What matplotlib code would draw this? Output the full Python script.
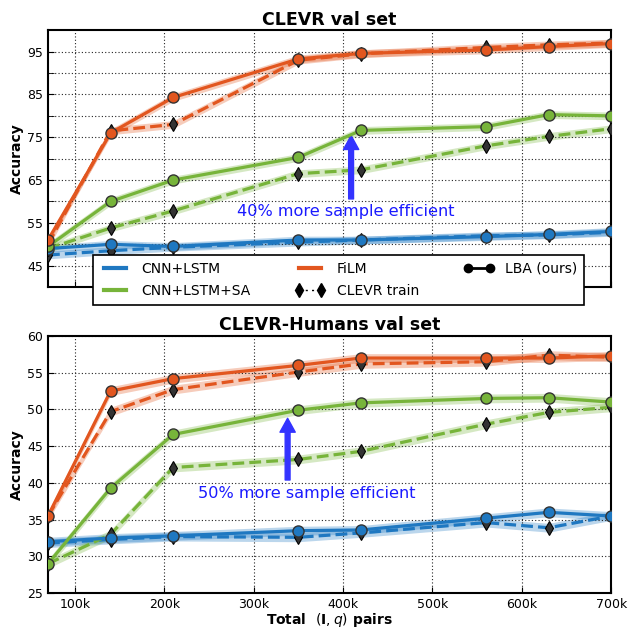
import numpy as np
import matplotlib.pyplot as plt
from matplotlib.lines import Line2D

# training set sizes (question/image pairs)
sizes = [70e3, 140e3, 210e3, 350e3, 420e3, 560e3, 630e3, 700e3]

# CLEVR val set accuracy
clevr_lstm_lba = [49.0, 50.0, 49.5, 51.0, 51.0, 51.8, 52.3, 53.0]
clevr_lstm_train = [47.5, 48.5, 49.3, 50.5, 51.0, 52.0, 52.2, 52.8]
clevr_sa_lba = [49.5, 60.0, 65.0, 70.3, 76.6, 77.5, 80.3, 80.0]
clevr_sa_train = [49.0, 53.8, 57.8, 66.5, 67.4, 73.0, 75.2, 77.0]
clevr_film_lba = [51.0, 76.0, 84.3, 93.3, 94.6, 95.4, 96.2, 96.9]
clevr_film_train = [50.0, 76.5, 78.0, 93.0, 94.5, 96.0, 96.6, 97.0]

# CLEVR-Humans val set accuracy
hum_lstm_lba = [32.0, 32.5, 32.8, 33.5, 33.6, 35.2, 36.0, 35.5]
hum_lstm_train = [31.8, 32.3, 32.7, 32.6, 33.2, 34.6, 33.9, 35.5]
hum_sa_lba = [29.0, 39.3, 46.6, 49.9, 50.9, 51.5, 51.6, 51.0]
hum_sa_train = [29.0, 33.0, 42.1, 43.2, 44.3, 48.0, 49.6, 50.3]
hum_film_lba = [35.5, 52.5, 54.2, 56.0, 57.0, 57.0, 57.0, 57.3]
hum_film_train = [35.5, 49.7, 52.7, 55.1, 56.2, 56.5, 57.4, 57.1]

labels = ['CNN+LSTM', 'CNN+LSTM+SA', 'FiLM']
colors = ['#1f78c1', '#77b43a', '#e2561f']

fig = plt.figure(figsize=(6.28, 6.31), dpi=100)
ax1 = fig.add_axes([0.0764, 0.545, 0.897, 0.407])
ax2 = fig.add_axes([0.0764, 0.060, 0.897, 0.4075])

x = np.array(sizes)


def draw(ax, series, band):
    for (lba, train), c in zip(series, colors):
        lba = np.array(lba)
        train = np.array(train)
        ax.fill_between(x, lba - band, lba + band, color=c, alpha=0.3, lw=0)
        ax.fill_between(x, train - band, train + band, color=c, alpha=0.3, lw=0)
        ax.plot(x, train, '--', color=c, lw=2.3, marker='d', ms=7,
                mfc='#333333', mec='black', mew=0.8, zorder=3)
        ax.plot(x, lba, '-', color=c, lw=2.3, marker='o', ms=8,
                mfc=c, mec='#333333', mew=1.0, zorder=4)


def style(ax):
    ax.set_xlim(70e3, 700e3)
    ax.set_xticks([1e5, 2e5, 3e5, 4e5, 5e5, 6e5, 7e5])
    ax.grid(True, which='both', color='#222222', ls=(0, (1, 2)), lw=0.8)
    ax.tick_params(direction='in', which='both', labelsize=9, length=4)
    for s in ax.spines.values():
        s.set_linewidth(1.5)
    ax.set_ylabel('Accuracy', fontsize=10, fontweight='bold', labelpad=2)


draw(ax1, [(clevr_lstm_lba, clevr_lstm_train),
           (clevr_sa_lba, clevr_sa_train),
           (clevr_film_lba, clevr_film_train)], 0.9)
style(ax1)
ax1.set_ylim(40, 100)
ax1.set_yticks([45, 55, 65, 75, 85, 95])
ax1.set_yticks([50, 60, 70, 80, 90], minor=True)
ax1.set_xticklabels([])
ax1.set_title('CLEVR val set', fontsize=12.5, fontweight='bold', pad=4)
ax1.annotate('', xy=(409e3, 75.4), xytext=(409e3, 60.6),
             arrowprops=dict(facecolor='#3333ff', edgecolor='#3333ff',
                             width=3.5, headwidth=11, headlength=10))
ax1.text(403e3, 57.7, '40% more sample efficient', color='#1a1aff',
         fontsize=11.6, ha='center', va='center')

draw(ax2, [(hum_lstm_lba, hum_lstm_train),
           (hum_sa_lba, hum_sa_train),
           (hum_film_lba, hum_film_train)], 0.6)
style(ax2)
ax2.set_ylim(25, 60)
ax2.set_yticks(np.arange(25, 61, 5))
ax2.set_xticklabels(['100k', '200k', '300k', '400k', '500k', '600k', '700k'])
ax2.set_title('CLEVR-Humans val set', fontsize=12.5, fontweight='bold', pad=4)
ax2.set_xlabel(r'Total  $(\mathbf{I},q)$ pairs', fontsize=10,
               fontweight='bold', labelpad=0)
ax2.annotate('', xy=(338e3, 48.8), xytext=(338e3, 40.4),
             arrowprops=dict(facecolor='#3333ff', edgecolor='#3333ff',
                             width=3.5, headwidth=11, headlength=10))
ax2.text(359e3, 38.6, '50% more sample efficient', color='#1a1aff',
         fontsize=11.6, ha='center', va='center')

handles = [
    Line2D([], [], color=colors[0], lw=3),
    Line2D([], [], color=colors[1], lw=3),
    Line2D([], [], color=colors[2], lw=3),
    Line2D([], [], color='black', ls=(0, (1.5, 3)), lw=1, marker='d',
           ms=7),
    Line2D([], [], color='black', ls='-', lw=2, marker='o', ms=6),
]
leg = fig.legend(handles,
                 ['CNN+LSTM', 'CNN+LSTM+SA', 'FiLM', 'CLEVR train',
                  'LBA (ours)'],
                 ncol=3, loc='upper center', bbox_to_anchor=(0.539, 0.596),
                 borderaxespad=0, fontsize=10, frameon=True, fancybox=False,
                 numpoints=2, edgecolor='black', framealpha=1,
                 columnspacing=3.2, handlelength=2.2, borderpad=0.5,
                 labelspacing=0.6)
leg.get_frame().set_linewidth(1.2)

fig.savefig('out.png', dpi=100)
